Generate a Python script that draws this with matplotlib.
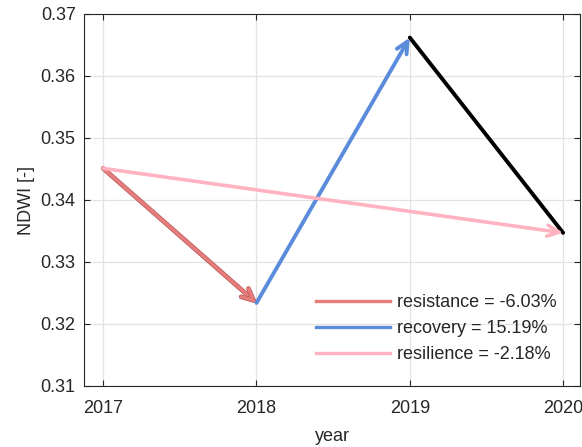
import matplotlib
matplotlib.use("Agg")
import matplotlib.pyplot as plt
from matplotlib.lines import Line2D
import matplotlib.patheffects as pe

plt.rcParams['font.family'] = ['Liberation Sans', 'DejaVu Sans']

years = [2017, 2018, 2019, 2020]
ndwi = [0.3451, 0.3234, 0.3662, 0.3347]
labels = ['resistance = -6.03%', 'recovery = 15.19%', 'resilience = -2.18%']
colors = ['#E67C7C', '#5B8CDC', '#FFB3C0']

fig = plt.figure(figsize=(5.82, 4.47), dpi=100)
ax = fig.add_axes([84/582, 1 - 386/447, (580-84)/582, (386-14)/447])

ax.set_xlim(2016.875, 2020.11)
ax.set_ylim(0.31, 0.37)
ax.set_xticks(years)
ax.set_yticks([0.31, 0.32, 0.33, 0.34, 0.35, 0.36, 0.37])
ax.set_yticklabels(['0.31', '0.32', '0.33', '0.34', '0.35', '0.36', '0.37'])
ax.grid(True, color='#e3e3e3', linewidth=0.9)
ax.set_axisbelow(True)
ax.tick_params(direction='in', top=True, right=True, length=4, width=0.8,
               labelsize=13, colors='#262626')
ax.tick_params(axis='x', pad=10)
ax.tick_params(axis='y', pad=6)
for s in ax.spines.values():
    s.set_color('#262626')
    s.set_linewidth(0.8)

def arrow(x0, y0, x1, y1, color, lw, z, effects=None, head=True):
    style = '->,head_length=0.42,head_width=0.2' if head else '-'
    ap = dict(arrowstyle=style,
              color=color, lw=lw, shrinkA=0, shrinkB=0,
              mutation_scale=20, capstyle='round', joinstyle='round')
    a = ax.annotate('', xy=(x1, y1), xytext=(x0, y0), arrowprops=ap, zorder=z)
    if effects:
        a.arrow_patch.set_path_effects(effects)
    return a

# 2019 -> 2020 decline
arrow(years[2], ndwi[2], years[3], ndwi[3], 'black', 2.8, 3, head=False)
# resistance: 2017 -> 2018
arrow(years[0], ndwi[0], years[1], ndwi[1], colors[0], 2.4, 4,
      [pe.Stroke(linewidth=3.4, foreground='#B85A5A'), pe.Normal()])
# recovery: 2018 -> 2019
arrow(years[1], ndwi[1], years[2], ndwi[2], colors[1], 2.8, 5)
# resilience: 2017 -> 2020
arrow(years[0], ndwi[0], years[3], ndwi[3], colors[2], 2.6, 6)

handles = [Line2D([], [], color=c, lw=2.4) for c in colors]
leg = ax.legend(handles, labels, loc='lower right', frameon=False,
                fontsize=13, handlelength=4.1, handletextpad=0.35,
                labelspacing=0.5, bbox_to_anchor=(0.985, 0.018))
for t in leg.get_texts():
    t.set_color('#262626')

ax.set_xlabel('year', fontsize=13, color='#262626', labelpad=8)
ax.set_ylabel('NDWI [-]', fontsize=13, color='#262626', labelpad=4)

fig.savefig('out.png', dpi=100)
